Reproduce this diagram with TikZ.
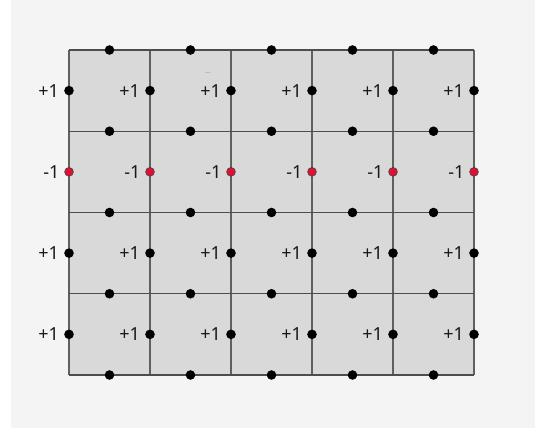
\documentclass[tikz,border=0pt]{standalone}
\usepackage{fontspec}
\setmainfont{Noto Sans}
\usetikzlibrary{positioning}
\definecolor{paper}{HTML}{F4F4F4}
\definecolor{cellgray}{HTML}{D9D9D9}
\definecolor{gridline}{HTML}{606060}
\definecolor{flipred}{HTML}{E01035}
\definecolor{notemark}{HTML}{9060F0}

\begin{document}
\begin{tikzpicture}[x=0.75pt,y=-0.75pt,
    site/.style={circle,fill=black,inner sep=0pt,minimum size=7.2pt},
    redsite/.style={circle,fill=flipred,draw=black!75,line width=0.45pt,inner sep=0pt,minimum size=6.6pt},
    sign/.style={inner sep=0pt,font=\fontsize{13.5}{15}\selectfont,text=black!90}]
        \useasboundingbox (0,0) rectangle (535,428);
        \fill[white] (0,0) rectangle (535,428);
        \fill[paper] (11,0) rectangle (535,428);
        % cells
        \fill[cellgray] (69,50) rectangle (474,375);
        \foreach \c in {0,...,5}
          \draw[gridline, line width=0.85pt] ({69+81*\c},50) -- ({69+81*\c},375);
        \foreach \r in {0,...,4}
          \draw[gridline!80!black, line width=0.85pt] (69,{50+81.25*\r}) -- (474,{50+81.25*\r});
        % sites on horizontal lines
        \foreach \r in {0,...,4}
          \foreach \c in {0,...,4}
            \node[site] (h\c-\r) at ({109.5+81*\c},{50+81.25*\r}) {};
        % sites on vertical lines with their signs
        \foreach \r/\s/\k in {0/+1/site,1/-1/redsite,2/+1/site,3/+1/site}
          \foreach \c in {0,...,5} {
            \node[\k] (v\c-\r) at ({69+81*\c},{90.6+81.25*\r}) {};
            \node[sign, left=3.5pt of v\c-\r] (l\c-\r) {\s};
          }
        \node[font=\fontsize{5}{5}\selectfont, text=notemark] (mark) at (208,73) {...};
     \end{tikzpicture}
\end{document}
